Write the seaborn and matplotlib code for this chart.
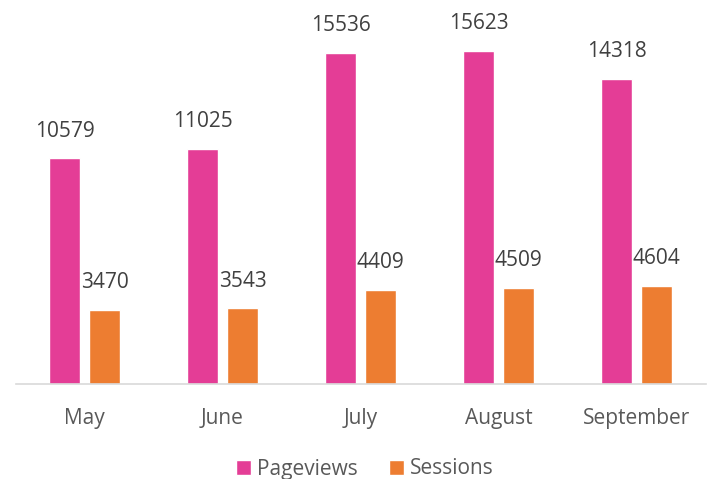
import pandas as pd
import matplotlib.pyplot as plt
import seaborn as sns
from matplotlib.patches import Patch


# datos
months = ["May", "June", "July", "August", "September"]
pageviews = [10579, 11025, 15536, 15623, 14318]
sessions = [3470, 3543, 4409, 4509, 4604]
series = ["Pageviews", "Sessions"]
colors = ["#E43D96", "#ED7D31"]

df = pd.DataFrame({
    "month": months * 2,
    "value": pageviews + sessions,
    "series": [series[0]] * len(months) + [series[1]] * len(months),
})


sns.set_style("white")
plt.rcParams["font.family"] = ["Open Sans", "DejaVu Sans"]

fig = plt.figure(figsize=(7.12, 4.79), dpi=100)
ax = fig.add_axes([15.5 / 712, 95 / 479, 690 / 712, 384 / 479])

sns.barplot(
    data=df,
    x="month",
    y="value",
    hue="series",
    palette=colors,
    saturation=1,
    width=0.58,
    gap=0.225,
    ax=ax,
    legend=False,
)

# etiquetas de valores
for container in ax.containers:
    ax.bar_label(
        container,
        labels=[str(int(v)) for v in container.datavalues],
        padding=12,
        fontsize=15,
        color="#404040",
    )

ax.set_ylim(0, 18000)
ax.set_xlim(-0.5, 4.5)
ax.set_xlabel("")
ax.set_ylabel("")
ax.set_yticks([])
ax.tick_params(axis="x", length=0, pad=17, labelsize=15, labelcolor="#595959")

for side in ["top", "left", "right"]:
    ax.spines[side].set_visible(False)
ax.spines["bottom"].set_color("#D9D9D9")
ax.spines["bottom"].set_linewidth(1.2)

handles = [Patch(facecolor=c, label=s) for c, s in zip(colors, series)]
fig.legend(
    handles=handles,
    loc="center",
    bbox_to_anchor=(365 / 712, 1 - 469 / 479),
    ncol=2,
    frameon=False,
    fontsize=15,
    labelcolor="#595959",
    handlelength=0.7,
    handleheight=0.7,
    handletextpad=0.3,
    columnspacing=1.5,
)

fig.savefig("out.png", dpi=100)
